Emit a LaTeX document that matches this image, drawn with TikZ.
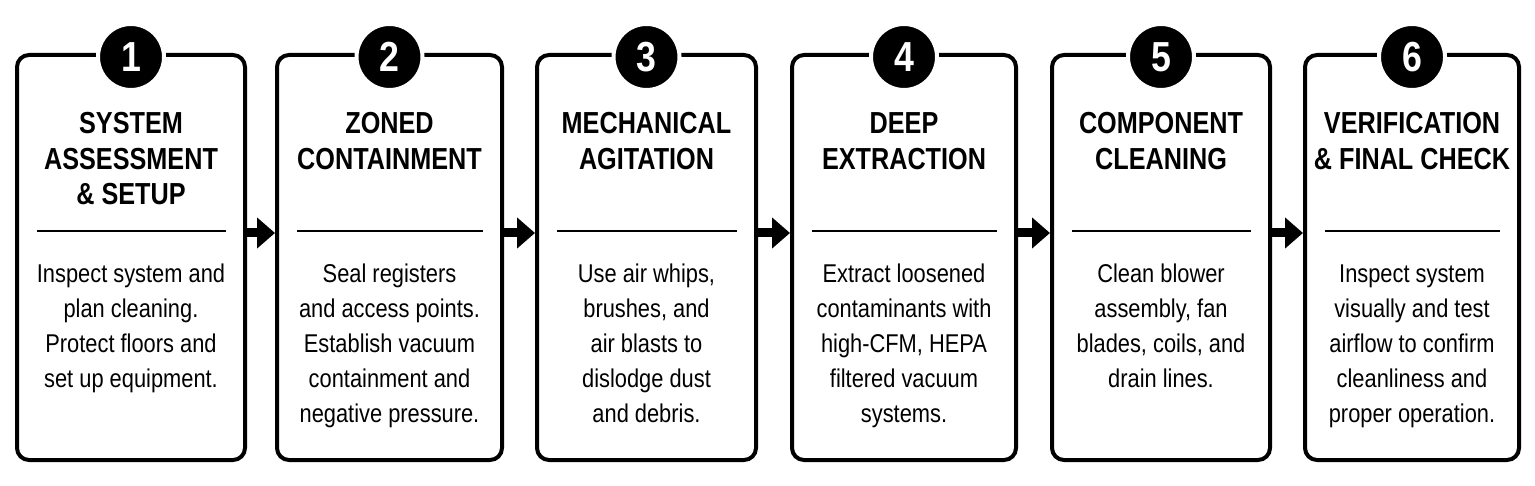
\documentclass[tikz,border=0pt]{standalone}
\usepackage{fontspec}
\usetikzlibrary{arrows.meta}
\newfontfamily\tfont{Liberation Sans}[FakeStretch=0.85]
\newfontfamily\hfont{Liberation Sans}[FakeStretch=0.83]
\tikzset{
  box/.style={draw=black, line width=2pt, rounded corners=6pt, minimum height=202.5pt, inner sep=0pt, fill=white},
  divider/.style={draw=black, line width=1pt},
  badge/.style={circle, fill=black, draw=white, line width=2pt, minimum size=33pt, inner sep=0pt, text=white, font=\tfont\bfseries\fontsize{21}{21}\selectfont},
  title/.style={anchor=base, inner sep=0pt, font=\hfont\bfseries\fontsize{15.2}{16}\selectfont},
  body/.style={anchor=base, inner sep=0pt, font=\tfont\fontsize{12.85}{15}\selectfont},
  arr/.style={draw=black, line width=4.5pt, -{Triangle[length=9pt,width=15pt]}}
}
\newcommand\stagebox[6]{%
  \node[box, minimum width=#3*0.5pt] (b#1) at (#2,257.5) {};
  \draw[divider] (#2-#3/2+20,231) -- (#2+#3/2-19,231);
  \node[badge] (n#1) at (#2,57) {#4};
  \foreach \l [count=\i] in {#5} \node[title] (t#1-\i) at (#2,134+35.5*\i-35.5) {\l};
  \foreach \l [count=\i] in {#6} \node[body] (d#1-\i) at (#2,282+35*\i-35) {\l};
}
\begin{document}
\begin{tikzpicture}[x=0.5pt,y=-0.5pt]
\useasboundingbox[fill=white] (0,0) rectangle (1535,486);
\stagebox{1}{131}{228}{1}{SYSTEM,ASSESSMENT,\& SETUP}{Inspect system and,plan cleaning.,Protect floors and,set up equipment.}
\stagebox{2}{389.5}{225}{2}{ZONED,CONTAINMENT}{Seal registers,and access points.,Establish vacuum,containment and,negative pressure.}
\stagebox{3}{646.5}{219}{3}{MECHANICAL,AGITATION}{{Use air whips,},{brushes, and},air blasts to,dislodge dust,and debris.}
\stagebox{4}{904}{224}{4}{DEEP,EXTRACTION}{Extract loosened,contaminants with,{high-CFM, HEPA},filtered vacuum,systems.}
\stagebox{5}{1161}{218}{5}{COMPONENT,CLEANING}{Clean blower,{assembly, fan},{blades, coils, and},drain lines.}
\stagebox{6}{1412}{214}{6}{VERIFICATION,\& FINAL CHECK}{Inspect system,visually and test,airflow to confirm,cleanliness and,proper operation.}
\coordinate (ay) at (0,233);
\foreach \a/\b in {1/2,2/3,3/4,4/5,5/6}
  \draw[arr] (b\a.east |- ay) -- (b\b.west |- ay);
\end{tikzpicture}
\end{document}
